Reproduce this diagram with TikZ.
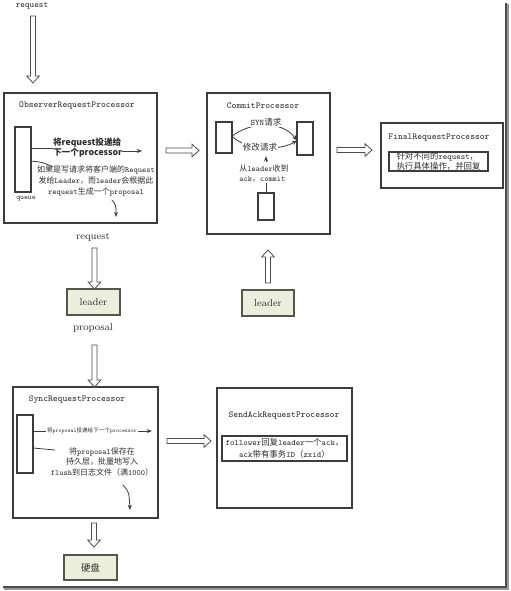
\documentclass[tikz,border=0pt]{standalone}
\usepackage{fontspec}
\newfontfamily\cjk{Noto Sans CJK SC}
\usetikzlibrary{calc,arrows.meta}
\definecolor{boxc}{HTML}{3C3C3C}
\definecolor{leaderfill}{HTML}{EAEEDA}
\definecolor{leaderline}{HTML}{55574C}
\definecolor{txt}{HTML}{2E2E2E}
\newcommand\zh[1]{{\cjk #1}}
\newcommand\fsz[2]{\fontsize{#1}{#2}\selectfont}
\def\pxu{0.75pt}
\def\hsw{1.9pt}\def\hhw{4.7pt}\def\hhl{5.2pt}
\newcommand\hdown[2]{\draw[hollow] let \p1=(#1), \p2=(#2) in (\x1-\hsw,\y1) -- (\x1-\hsw,\y2+\hhl) -- (\x1-\hhw,\y2+\hhl) -- (\x1,\y2) -- (\x1+\hhw,\y2+\hhl) -- (\x1+\hsw,\y2+\hhl) -- (\x1+\hsw,\y1) -- cycle;}
\newcommand\hup[2]{\draw[hollow] let \p1=(#1), \p2=(#2) in (\x1-\hsw,\y1) -- (\x1-\hsw,\y2-\hhl) -- (\x1-\hhw,\y2-\hhl) -- (\x1,\y2) -- (\x1+\hhw,\y2-\hhl) -- (\x1+\hsw,\y2-\hhl) -- (\x1+\hsw,\y1) -- cycle;}
\newcommand\hright[2]{\draw[hollow] let \p1=(#1), \p2=(#2) in (\x1,\y1-\hsw) -- (\x2-\hhl,\y1-\hsw) -- (\x2-\hhl,\y1-\hhw) -- (\x2,\y1) -- (\x2-\hhl,\y1+\hhw) -- (\x2-\hhl,\y1+\hsw) -- (\x1,\y1+\hsw) -- cycle;}
\begin{document}
\begin{tikzpicture}[x=0.75pt,y=-0.75pt,
  box/.style={draw=boxc, line width=0.8pt, inner sep=0pt, outer sep=0pt, anchor=north west},
  leaderbox/.style={draw=leaderline, fill=leaderfill, line width=1pt, inner sep=0pt, outer sep=0pt, anchor=north west, text=txt},
  lbl/.style={inner sep=0pt, outer sep=0pt, text=txt},
  title/.style={lbl, font=\fsz{6.8}{8}\ttfamily},
  body/.style={lbl, font=\fsz{6}{7.8}\ttfamily, align=center},
  hollow/.style={draw=black!70, line width=0.6pt, fill=white},
  thin/.style={draw=boxc, line width=0.6pt},
  tip/.style={thin, -{Stealth[length=4pt,width=3pt]}}
]
\useasboundingbox (0,0) rectangle (510,591);
\fill[white] (0,0) rectangle (510,591);
% shadow frame
\fill[black!70] (505,3) rectangle (507,588);
\fill[black!40] (507,4) rectangle (509,590);
\fill[black!70] (3,586) rectangle (507,588);
\fill[black!40] (4,588) rectangle (509,590);

% ---------- Observer ----------
\node[lbl, font=\fsz{6.5}{8}\ttfamily] (req1) at (32,6) {request};
\node[box, minimum width=153*\pxu, minimum height=130*\pxu] (obs) at (4,93) {};
\node[title] (obst) at (77,106) {ObserverRequestProcessor};
\node[box, minimum width=16*\pxu, minimum height=65*\pxu] (qobs) at (15,127) {};
\node[lbl, font=\fsz{5.5}{7}\ttfamily] (queue) at (26,199) {queue};
\node[lbl, font=\fsz{6.5}{7.6}\cjk\bfseries, align=left, anchor=west] (fwd) at (53,148) {将request投递给\\下一个processor};
\draw[thin] (qobs.east |- fwd.west) -- (fwd.west);
\draw[tip] ([yshift=-2.2pt]fwd.east) -- ++(20,0);
\coordinate (wr) at (53,167);
\draw[thin] ([yshift=-1.2pt]qobs.east) .. controls (42,162) .. (wr);
\node[body, font=\fsz{6}{7.9}\ttfamily] (wrt) at (96,181) {\zh{如果是写请求将客户端的}Request\\\zh{发给}Leader\zh{，而}leader\zh{会根据此}\\request\zh{生成一个}proposal};
\coordinate (c1s) at (112,200);
\coordinate (c1e) at (116,217);
\draw[tip] (c1s) .. controls (116,205) .. (c1e);

\node[lbl, font=\fsz{7.6}{9}\rmfamily] (req2) at (93,237) {request};
\node[leaderbox, minimum width=53*\pxu, minimum height=26*\pxu, font=\fsz{7.5}{9}\rmfamily] (leadL) at (67,289) {leader};
\node[lbl, font=\fsz{7.6}{9}\rmfamily] (prop) at (93,328) {proposal};

% ---------- Commit ----------
\node[box, minimum width=123*\pxu, minimum height=141*\pxu] (com) at (207,93) {};
\node[title] (comt) at (263,106) {CommitProcessor};
\node[box, minimum width=16*\pxu, minimum height=31*\pxu] (cL) at (216,122) {};
\node[box, minimum width=16*\pxu, minimum height=33*\pxu] (cR) at (297,122) {};
\node[box, minimum width=16*\pxu, minimum height=27*\pxu] (cB) at (258,193) {};
\draw[tip] ([yshift=1pt]cL.east) .. controls (250,122) and (282,120) .. ([yshift=-1.5pt]cR.west);
\draw[tip] ([yshift=1pt]cL.east) .. controls (248,152) and (282,150) .. ([yshift=-1.5pt]cR.west);
\node[lbl, fill=white, inner sep=0.6pt, font=\fsz{6.4}{8}\ttfamily] (syn) at (266,122) {SYN\zh{请求}};
\node[lbl, fill=white, inner sep=0.6pt, font=\fsz{6.4}{8}\cjk] (mod) at (260,147) {修改请求};
\node[lbl, font=\fsz{6}{7.6}\ttfamily, align=left] (ackt) at (264,174) {\zh{从}leader\zh{收到}\\ack\zh{，}commit};
\draw[tip] (ackt.north -| 266,0) ++(0,-3) -- ++(0,-6);
\draw[thin] (cB.north) -- (cB.north |- ackt.south);
\node[leaderbox, minimum width=52*\pxu, minimum height=26*\pxu, font=\fsz{7.5}{9}\rmfamily] (leadR) at (242,290) {leader};

% ---------- Final ----------
\node[box, minimum width=122*\pxu, minimum height=65*\pxu] (fin) at (381,123) {};
\node[title] (fint) at (439,138) {FinalRequestProcessor};
\node[box, minimum width=99*\pxu, minimum height=19*\pxu, align=left, text=txt, font=\fsz{6.3}{6.6}\ttfamily] (finin) at (389,152) {\zh{针对不同的}request\zh{，}\\\zh{执行具体操作，并回复}};

% ---------- Sync ----------
\node[box, minimum width=145*\pxu, minimum height=131*\pxu] (syn2) at (13,387) {};
\node[title] (synt) at (77,400) {SyncRequestProcessor};
\node[box, minimum width=16*\pxu, minimum height=58*\pxu] (qsync) at (17,415) {};
\coordinate (sae) at (152,431);
\draw[tip] (qsync.east |- sae) -- (sae);
\node[lbl, fill=white, inner sep=0.5pt, font=\fsz{4.2}{5}\ttfamily] (tiny) at (92,431) {\zh{将}proposal\zh{投递给下一个}processor};
\coordinate (sl) at (55,450);
\draw[thin] (qsync.east |- 0,448) -- (sl);
\node[body, font=\fsz{6}{7.6}\ttfamily] (savet) at (102,462) {\zh{将}proposal\zh{保存在}\\\zh{持久层，批量地写入}\\flush\zh{到日志文件（满}1000\zh{）}};
\coordinate (c2s) at (123,485);
\coordinate (c2e) at (130,510);
\draw[tip] (c2s) .. controls (129,492) .. (c2e);
\node[leaderbox, minimum width=53*\pxu, minimum height=25*\pxu, font=\fsz{7}{8}\cjk] (disk) at (64,555) {硬盘};

% ---------- SendAck ----------
\node[box, minimum width=135*\pxu, minimum height=120*\pxu] (snd) at (217,388) {};
\node[title] (sndt) at (284,416) {SendAckRequestProcessor};
\node[box, minimum width=125*\pxu, minimum height=25*\pxu, align=center, text=txt, font=\fsz{6.3}{9}\ttfamily] (sndin) at (222,436) {follower\zh{回复}leader\zh{一个}ack\zh{，}\\ack\zh{带有事务}ID\zh{（}zxid\zh{）}};

% ---------- hollow arrows ----------
\coordinate (a1s) at (33,16);
\coordinate (a1e) at (33,83);
\hdown{a1s}{a1e}
\coordinate (a2s) at (166,150.5);
\coordinate (a2e) at (199,150.5);
\hright{a2s}{a2e}
\coordinate (a3s) at (337,150);
\coordinate (a3e) at (372,150);
\hright{a3s}{a3e}
\coordinate (a4s) at (94.5,248);
\hdown{a4s}{leadL.north}
\coordinate (a5s) at (94.5,345);
\hdown{a5s}{syn2.north}
\coordinate (a6s) at (94,523);
\coordinate (a6e) at (94,547);
\hdown{a6s}{a6e}
\coordinate (a7s) at (268,283);
\coordinate (a7e) at (268,250);
\hup{a7s}{a7e}
\coordinate (a8s) at (167,441);
\coordinate (a8e) at (211,441);
\hright{a8s}{a8e}
\end{tikzpicture}
\end{document}
